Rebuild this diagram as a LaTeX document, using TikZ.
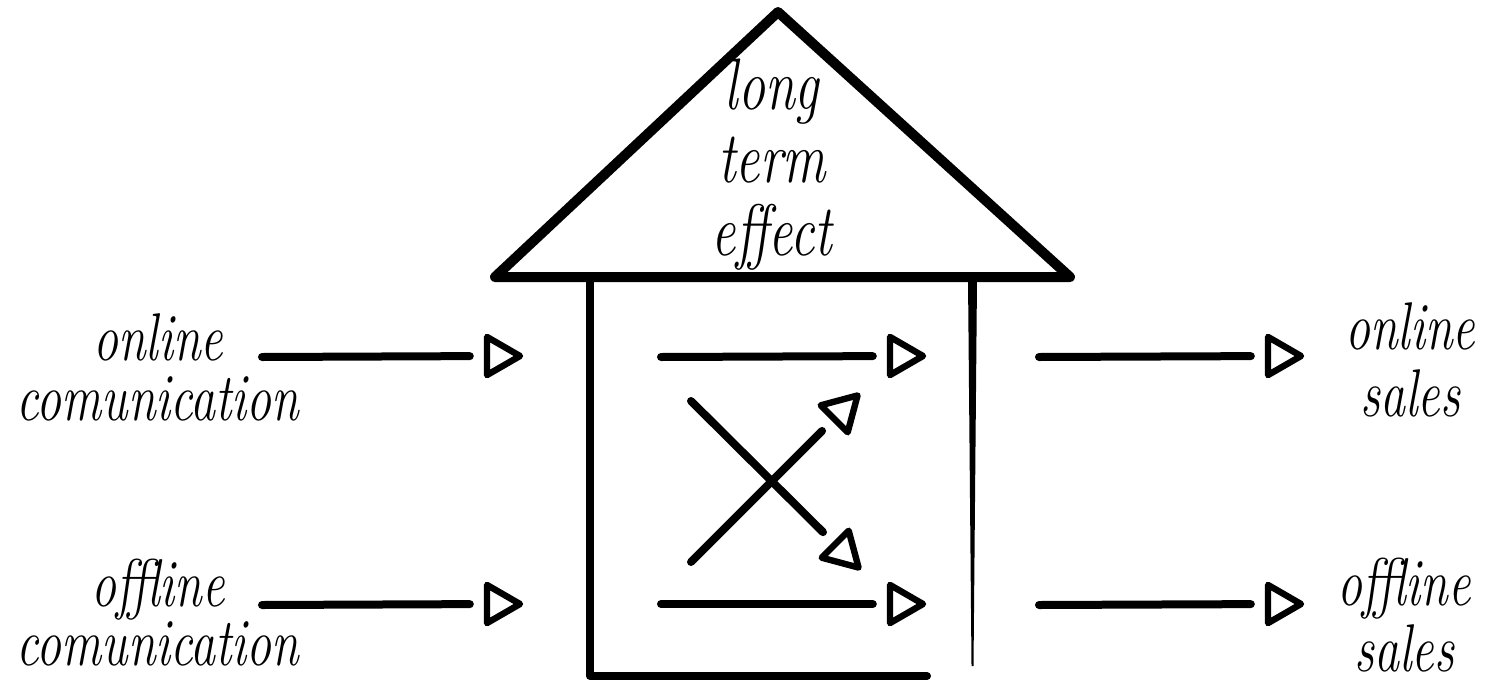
\documentclass[tikz,border=0pt]{standalone}
\usetikzlibrary{shapes.geometric}
\begin{document}
\begin{tikzpicture}[x=0.5pt,y=-0.5pt,
  conn/.style={line width=4pt,line cap=round,shorten >=7pt},
  head/.style={draw,line width=3.2pt,line join=round,regular polygon,regular polygon sides=3,
    inner sep=0pt,minimum size=22pt,regular polygon rotate=-90},
  wall/.style={line width=4pt,line cap=round,line join=round},
  lbl/.style={inner sep=0pt,text=black}]
\useasboundingbox (0,0) rectangle (1491,685);
% roof
\draw[line width=5pt,line join=round] (495,277) -- (778,12) -- (1070,277) -- cycle;
% walls
\draw[wall] (590,280) -- (590,676) -- (927,676);
\fill (968,279) -- (977,279) -- (973.5,666) -- (971.5,666) -- cycle;
% labels
\node[lbl] (lt) at (772,168) {\scalebox{1}[1.35]{\fontsize{27}{27}\selectfont\itshape\begin{tabular}{@{}c@{}}long\\term\\effect\end{tabular}}};
\node[lbl] (onc) at (158,375) {\scalebox{1}[1.35]{\fontsize{25}{19.5}\selectfont\itshape\begin{tabular}{@{}c@{}}online\\comunication\end{tabular}}};
\node[lbl] (ofc) at (158,620) {\scalebox{1}[1.35]{\fontsize{25}{19.5}\selectfont\itshape\begin{tabular}{@{}c@{}}offline\\comunication\end{tabular}}};
\node[lbl] (ons) at (1410,370) {\scalebox{1}[1.35]{\fontsize{25}{24.8}\selectfont\itshape\begin{tabular}{@{}c@{}}online\\sales\end{tabular}}};
\node[lbl] (ofs) at (1404,624) {\scalebox{1}[1.35]{\fontsize{25}{23.3}\selectfont\itshape\begin{tabular}{@{}c@{}}offline\\sales\end{tabular}}};
% heads
\node[head] (hl1) at (498,356) {};
\node[head] (hl2) at (498,604) {};
\node[head] (hi1) at (901,356) {};
\node[head] (hi2) at (901,604) {};
\node[head] (hr1) at (1279,356) {};
\node[head] (hr2) at (1279,604) {};
\node[head,regular polygon rotate=-45] (hu) at (842,411) {};
\node[head,regular polygon rotate=-135] (hd) at (843,552) {};
% starts
\coordinate (sl1) at (262,357);
\coordinate (sl2) at (262,605);
\coordinate (si1) at (661,357);
\coordinate (si2) at (661,604);
\coordinate (sr1) at (1039,357);
\coordinate (sr2) at (1039,605);
\coordinate (sd) at (691,401);
\coordinate (su) at (691,562);
% connectors
\draw[conn] (sl1) -- (hl1);
\draw[conn] (sl2) -- (hl2);
\draw[conn] (si1) -- (hi1);
\draw[conn] (si2) -- (hi2);
\draw[conn] (sr1) -- (hr1);
\draw[conn] (sr2) -- (hr2);
\draw[conn] (sd) -- (hd);
\draw[conn] (su) -- (hu);
\end{tikzpicture}
\end{document}
